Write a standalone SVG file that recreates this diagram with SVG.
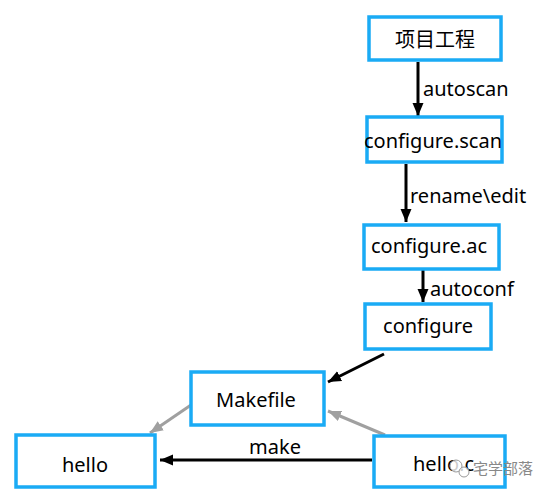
<svg xmlns="http://www.w3.org/2000/svg" width="541" height="495" viewBox="0 0 541 495">
<style>
.box{fill:#fff;stroke:#1aabf5;stroke-width:3.5}
.t{font-family:"Noto Sans","Noto Sans CJK SC",sans-serif;font-size:20px;fill:#000;text-anchor:middle}
.lbl{font-family:"Noto Sans","Noto Sans CJK SC",sans-serif;font-size:20px;fill:#000}
.blk{stroke:#000;stroke-width:3;fill:none}
.gry{stroke:#a0a0a0;stroke-width:3;fill:none}
.wm{font-family:"Noto Sans CJK SC",sans-serif;font-size:15px;fill:#888}
</style>
<defs>
<marker id="ab" markerUnits="userSpaceOnUse" markerWidth="14" markerHeight="14" viewBox="0 0 14 14" refX="13" refY="7" orient="auto">
<path d="M0,1.5 L13,7 L0,12.5 Z" fill="#000"/>
</marker>
<marker id="ag" markerUnits="userSpaceOnUse" markerWidth="14" markerHeight="14" viewBox="0 0 14 14" refX="13" refY="7" orient="auto">
<path d="M0,1.5 L13,7 L0,12.5 Z" fill="#a0a0a0"/>
</marker>
</defs>
<g id="connectors">
<line class="blk" x1="418" y1="62" x2="418" y2="116" marker-end="url(#ab)"/>
<text class="lbl" x="423" y="96">autoscan</text>
<line class="blk" x1="406" y1="164" x2="406" y2="222" marker-end="url(#ab)"/>
<text class="lbl" x="410" y="203">rename\edit</text>
<line class="blk" x1="423" y1="270" x2="423" y2="302" marker-end="url(#ab)"/>
<text class="lbl" x="430" y="296">autoconf</text>
<line class="blk" x1="384" y1="354" x2="328" y2="382" marker-end="url(#ab)"/>
<line class="gry" x1="191" y1="405" x2="150" y2="433" marker-end="url(#ag)"/>
<line class="gry" x1="385" y1="435" x2="328" y2="411" marker-end="url(#ag)"/>
<line class="blk" x1="372" y1="460" x2="160" y2="460" marker-end="url(#ab)"/>
<text class="t" x="275" y="454">make</text>
</g>
<g id="n1"><rect class="box" x="369" y="17" width="132" height="43"/><text class="t" x="435" y="47">项目工程</text></g>
<g id="n2"><rect class="box" x="367" y="117" width="135" height="45"/><text class="t" x="433" y="148">configure.scan</text></g>
<g id="n3"><rect class="box" x="364" y="225" width="135" height="44"/><text class="t" x="429" y="253">configure.ac</text></g>
<g id="n4"><rect class="box" x="365" y="304" width="126" height="45"/><text class="t" x="428" y="333">configure</text></g>
<g id="n5"><rect class="box" x="191" y="372" width="133" height="53"/><text class="t" x="256" y="407">Makefile</text></g>
<g id="n6"><rect class="box" x="16" y="435" width="139" height="52"/><text class="t" x="85" y="472">hello</text></g>
<g id="n7"><rect class="box" x="374" y="436" width="131" height="51"/><text class="lbl" x="413" y="471">hello.c</text></g>
<g id="watermark">
<circle cx="456" cy="466" r="6" fill="#fff" fill-opacity="0.8" stroke="#999" stroke-width="1"/>
<circle cx="464" cy="472" r="5" fill="#fff" fill-opacity="0.8" stroke="#999" stroke-width="1"/>
<text class="wm" x="473" y="474">宅学部落</text>
</g>
</svg>
